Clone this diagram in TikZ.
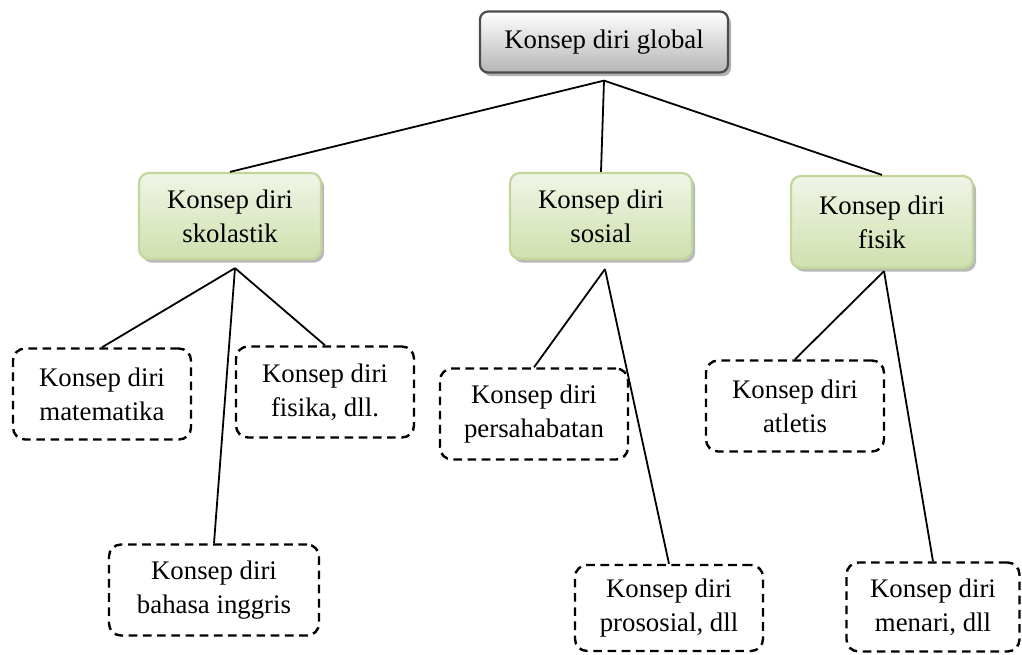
\documentclass[tikz,border=0pt]{standalone}
\usepackage{fontspec}
\setmainfont{Liberation Serif}
\usetikzlibrary{shapes.geometric, arrows, shadows, positioning}
\definecolor{leafline}{HTML}{C3D69B}
\definecolor{leaftop}{HTML}{F0F5E6}
\definecolor{leafbot}{HTML}{CFE0AE}
\begin{document}
\begin{tikzpicture}[x=0.5pt, y=-0.5pt,
	every node/.style={font=\fontsize{13.4}{17}\selectfont, align=center, inner sep=0pt},
	rootbox/.style={draw=gray!60!black, line width=1.1pt, rounded corners=4pt, top color=white, bottom color=gray!58,
		minimum width=124pt, minimum height=30.5pt,
		drop shadow={shadow xshift=1.5pt, shadow yshift=-1.8pt, fill=gray!60, opacity=1}},
	areabox/.style={draw=leafline, line width=1.1pt, rounded corners=5pt, top color=leaftop, bottom color=leafbot,
		minimum width=91pt, minimum height=43pt,
		drop shadow={shadow xshift=1.5pt, shadow yshift=-1.8pt, fill=gray!55, opacity=1}},
	subbox/.style={draw=black, line width=1.2pt, dash pattern=on 4.3pt off 2.8pt, rounded corners=6pt,
		minimum width=89pt, minimum height=45.5pt},
	link/.style={black, line width=0.9pt}]
	\useasboundingbox (0,0) rectangle (1022,654);

	\node[rootbox] (global) at (604,42) {Konsep diri global};

	\node[areabox] (skol) at (230,216) {Konsep diri\\skolastik};
	\node[areabox] (sos) at (601,216) {Konsep diri\\sosial};
	\node[areabox, minimum height=46pt] (fis) at (882,222) {Konsep diri\\fisik};

	\node[subbox] (mat) at (102,394) {Konsep diri\\matematika};
	\node[subbox] (fisika) at (325,392) {Konsep diri\\fisika, dll.};
	\node[subbox, minimum width=105pt] (bhs) at (214,590) {Konsep diri\\bahasa inggris};
	\node[subbox, minimum width=94pt] (pers) at (534,414) {Konsep diri\\persahabatan};
	\node[subbox, minimum width=94pt, minimum height=43pt] (pros) at (669,608) {Konsep diri\\prososial, dll};
	\node[subbox] (atl) at (795,406) {Konsep diri\\atletis};
	\node[subbox, minimum width=86.5pt, minimum height=44.5pt] (men) at (933,607) {Konsep diri\\menari, dll};

	% titik cabang di bawah tiap kotak
	\coordinate (globalj) at ([yshift=-3.5pt]global.south);
	\coordinate (skolj) at ([shift={(5,8)}]skol.south);
	\coordinate (sosj) at ([shift={(4,9)}]sos.south);
	\coordinate (fisj) at ([shift={(2,2)}]fis.south);

	\draw[link] (globalj) -- (skol.north);
	\draw[link] (globalj) -- (sos.north);
	\draw[link] (globalj) -- (fis.north);

	\draw[link] (skolj) -- (mat.north);
	\draw[link] (skolj) -- (fisika.north);
	\draw[link] (skolj) -- (bhs.north);

	\draw[link] (sosj) -- (pers.north);
	\draw[link] (sosj) -- (pros.north);

	\draw[link] (fisj) -- (atl.north);
	\draw[link] (fisj) -- (men.north);
\end{tikzpicture}
\end{document}
